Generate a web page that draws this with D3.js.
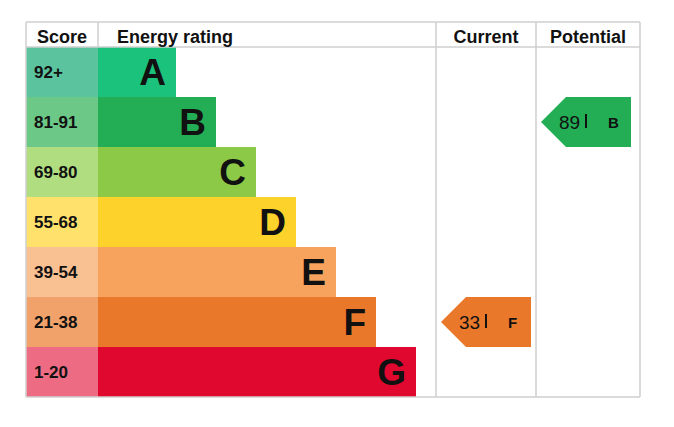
<!DOCTYPE html><html><head><script src="https://cdn.jsdelivr.net/npm/d3@7"></script>
<style>body{margin:0;background:#fff}text{font-family:"Liberation Sans",Arial,sans-serif}</style></head><body><svg id="c" width="674" height="427"></svg><script>
const bands=["A","B","C","D","E","F","G"];
const scores=["92+","81-91","69-80","55-68","39-54","21-38","1-20"];
const barColors=["#1bc27b","#23ad55","#8bc947","#fdd22a","#f7a35e","#ea782a","#e1082f"];
const scoreColors=["#5bc49f","#6cc886","#b0dd7f","#ffe16c","#f9c092","#f0a26a","#ee6b84"];
const current={value:33,band:"F"}, potential={value:89,band:"B"};
const svg=d3.select("#c");
const L=26,R=640,T=22,H0=47,B=397,sx=98,c1=436,c2=536;
const y=d3.scaleBand().domain(bands).range([H0,B]);
const w=d3.scaleLinear().domain([0,6]).range([78,318]);
// bars
bands.forEach((b,i)=>{
 svg.append("rect").attr("x",L).attr("y",y(b)).attr("width",sx-L).attr("height",y.bandwidth()).attr("fill",scoreColors[i]);
 svg.append("rect").attr("x",sx).attr("y",y(b)).attr("width",w(i)).attr("height",y.bandwidth()).attr("fill",barColors[i]);
 svg.append("text").attr("x",L+8).attr("y",y(b)+y.bandwidth()/2+6).attr("font-size",17).attr("font-weight","bold").attr("fill","#111").text(scores[i]);
 svg.append("text").attr("x",sx+w(i)-10).attr("y",y(b)+y.bandwidth()/2+13).attr("text-anchor","end").attr("font-size",37).attr("font-weight","bold").attr("fill","#111").text(b);
});
// grid
const g="#cfcfcf";
[[L,T,R,T],[L,H0,R,H0],[L,B,R,B],[L,T,L,B],[sx,T,sx,H0],[c1,T,c1,B],[c2,T,c2,B],[R,T,R,B]].forEach(a=>svg.append("line").attr("x1",a[0]).attr("y1",a[1]).attr("x2",a[2]).attr("y2",a[3]).attr("stroke",g).attr("stroke-width",1.5));
[["Score",L+36],["Energy rating",175],["Current",486],["Potential",588]].forEach(h=>svg.append("text").attr("x",h[1]).attr("y",T+21).attr("text-anchor","middle").attr("font-size",18).attr("font-weight","bold").attr("fill","#111").text(h[0]));
function arrow(d,x0){
 const i=bands.indexOf(d.band),t=y(d.band),h=y.bandwidth(),x1=x0+90;
 svg.append("path").attr("d",`M${x0},${t+h/2}L${x0+25},${t}L${x1},${t}L${x1},${t+h}L${x0+25},${t+h}Z`).attr("fill",barColors[i]);
 svg.append("text").attr("x",x0+18).attr("y",t+h/2+7).attr("font-size",19).attr("fill","#111").text(d.value);
 svg.append("rect").attr("x",x0+44).attr("y",t+h/2-8).attr("width",2).attr("height",14).attr("fill","#111");
 svg.append("text").attr("x",x0+67).attr("y",t+h/2+6).attr("font-size",15).attr("font-weight","bold").attr("fill","#111").text(d.band);
}
arrow(current,441);arrow(potential,541);
</script></body></html>
